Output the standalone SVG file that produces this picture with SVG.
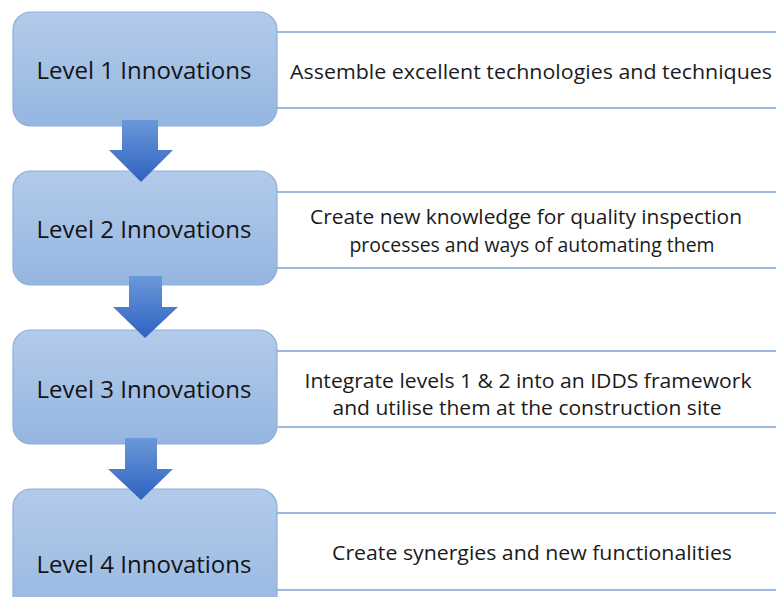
<svg xmlns="http://www.w3.org/2000/svg" width="776" height="597" viewBox="0 0 776 597">
<defs>
<linearGradient id="boxGrad" x1="0" y1="0" x2="0" y2="1">
<stop offset="0" stop-color="#b3cbea"/>
<stop offset="1" stop-color="#95b6e0"/>
</linearGradient>
<linearGradient id="arrowGrad" x1="0" y1="0" x2="0" y2="1">
<stop offset="0" stop-color="#6a98da"/>
<stop offset="1" stop-color="#2f62c0"/>
</linearGradient>
<style>
.lvl{fill:url(#boxGrad);stroke:#8eaedb;stroke-width:1.2}
.panel{fill:#ffffff;stroke:#86a8d6;stroke-width:1.6}
.arr{fill:url(#arrowGrad);stroke:none}
.t{font-family:"Open Sans","Noto Sans","DejaVu Sans",sans-serif;font-size:23px;fill:#141414;text-anchor:middle}
.d{font-family:"Open Sans","Noto Sans","DejaVu Sans",sans-serif;font-size:20px;fill:#1a1a1a;text-anchor:middle}
</style>
</defs>
<rect width="776" height="597" fill="#ffffff"/>

<g id="panel1"><rect class="panel" x="270" y="32" width="520" height="76"/>
<text class="d" x="531" y="79" textLength="482" lengthAdjust="spacingAndGlyphs">Assemble excellent technologies and techniques</text></g>
<g id="panel2"><rect class="panel" x="270" y="192" width="520" height="76"/>
<text class="d" x="526" y="224" textLength="432" lengthAdjust="spacingAndGlyphs">Create new knowledge for quality inspection</text>
<text class="d" x="532" y="252" textLength="365" lengthAdjust="spacingAndGlyphs">processes and ways of automating them</text></g>
<g id="panel3"><rect class="panel" x="270" y="351" width="520" height="76"/>
<text class="d" x="528" y="388" textLength="447" lengthAdjust="spacingAndGlyphs">Integrate levels 1 &amp; 2 into an IDDS framework</text>
<text class="d" x="527" y="415" textLength="389" lengthAdjust="spacingAndGlyphs">and utilise them at the construction site</text></g>
<g id="panel4"><rect class="panel" x="270" y="513" width="520" height="77"/>
<text class="d" x="532" y="560" textLength="400" lengthAdjust="spacingAndGlyphs">Create synergies and new functionalities</text></g>

<g id="level1"><rect class="lvl" x="13" y="12" width="264" height="114" rx="18"/>
<text class="t" x="144" y="79" textLength="215" lengthAdjust="spacingAndGlyphs">Level 1 Innovations</text></g>
<g id="level2"><rect class="lvl" x="13" y="171" width="264" height="114" rx="18"/>
<text class="t" x="144" y="238" textLength="215" lengthAdjust="spacingAndGlyphs">Level 2 Innovations</text></g>
<g id="level3"><rect class="lvl" x="13" y="330" width="264" height="114" rx="18"/>
<text class="t" x="144" y="398" textLength="215" lengthAdjust="spacingAndGlyphs">Level 3 Innovations</text></g>
<g id="level4"><rect class="lvl" x="13" y="489" width="264" height="140" rx="18"/>
<text class="t" x="144" y="573" textLength="215" lengthAdjust="spacingAndGlyphs">Level 4 Innovations</text></g>

<g id="connectors">
<path class="arr" d="M122,120 H158 V150 H173 L141,182 L109,150 H122 Z"/>
<path class="arr" d="M129,276 H162 V307 H178 L145,338 L113,307 H129 Z"/>
<path class="arr" d="M125,438 H157 V469 H173 L141,500 L108,469 H125 Z"/>
</g>
</svg>
